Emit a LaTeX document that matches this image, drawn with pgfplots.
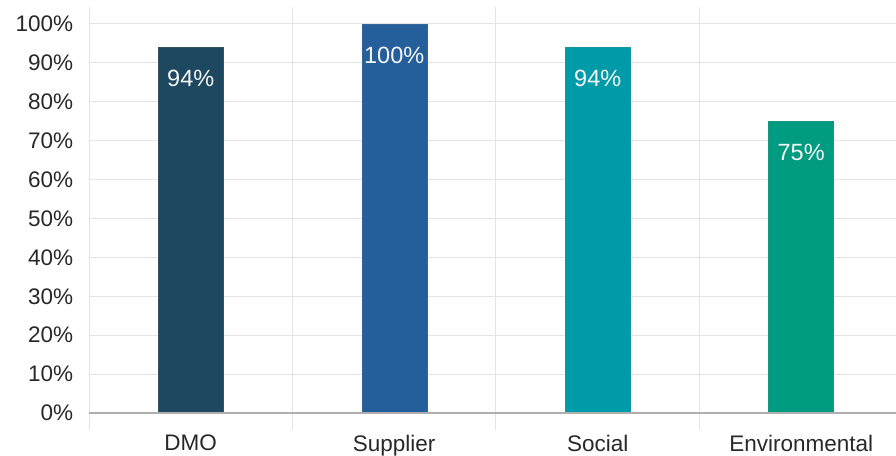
\documentclass[border=0pt]{standalone}
\usepackage{pgfplots}
\pgfplotsset{compat=1.18}
\usepackage{fontspec}
\setmainfont{Liberation Sans}

\definecolor{cDMO}{RGB}{30,72,96}
\definecolor{cSup}{RGB}{36,94,155}
\definecolor{cSoc}{RGB}{0,155,168}
\definecolor{cEnv}{RGB}{0,155,128}
\definecolor{gridc}{RGB}{228,228,228}
\definecolor{axisc}{RGB}{175,175,175}
\definecolor{labc}{RGB}{40,40,40}

\begin{document}
\begin{tikzpicture}
\useasboundingbox (0,0) rectangle (896pt,455pt);
\begin{axis}[
    at={(89pt,42pt)}, anchor=south west,
    scale only axis,
    width=807pt, height=389pt,
    xmin=-0.5, xmax=3.466,
    ymin=0, ymax=100,
    ybar, bar width=65pt, bar shift=0pt,
    axis line style={draw=none},
    xtick={0,1,2,3},
    xticklabels={DMO,Supplier,Social,Environmental},
    major x tick style={draw=none},
    minor xtick={-0.5,0.5,1.5,2.5},
    xminorgrids=true,
    minor x tick style={draw=gridc, line width=1pt},
    minor tick length=17pt,
    tick align=outside,
    ytick={0,10,...,100},
    major y tick style={draw=none},
    ymajorgrids=true,
    grid style={draw=gridc, line width=1pt},
    yticklabel={\pgfmathprintnumber{\tick}\%},
    /pgf/number format/assume math mode=true,
    ticklabel style={font=\fontsize{22.5}{26}\selectfont, text=labc},
    yticklabel style={xshift=-8pt},
    xticklabel style={yshift=-14pt},
    nodes near coords={\pgfmathprintnumber{\pgfplotspointmeta}\%},
    every node near coord/.append style={anchor=center, yshift=-31pt,
        text=white!92!gray, font=\fontsize{23.5}{27}\selectfont},
    clip=false,
]
\addplot[fill=cDMO, draw=cDMO!80!gray] coordinates {(0,94)};
\addplot[fill=cSup, draw=cSup!80!gray] coordinates {(1,100)};
\addplot[fill=cSoc, draw=cSoc!80!gray] coordinates {(2,94)};
\addplot[fill=cEnv, draw=cEnv!80!gray] coordinates {(3,75)};
\draw[axisc, line width=1.2pt] (axis cs:-0.5,0) -- (axis cs:3.466,0);
\end{axis}
\end{tikzpicture}
\end{document}
